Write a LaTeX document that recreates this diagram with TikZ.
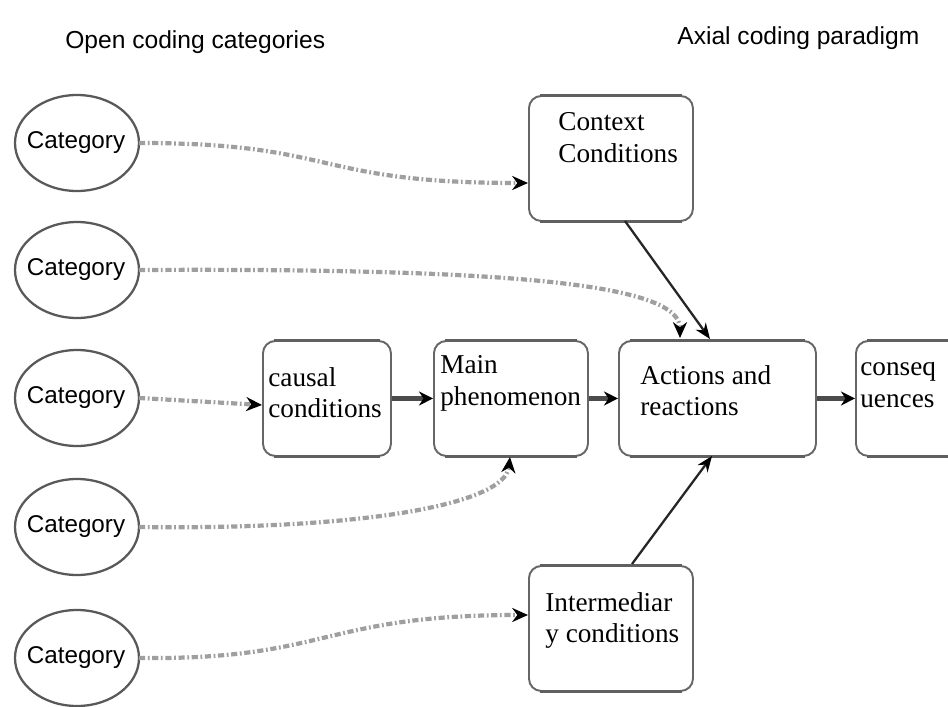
\documentclass[tikz,border=0pt]{standalone}
\usepackage{fontspec}
\setmainfont{Liberation Serif}
\newfontfamily\labelsans{Liberation Sans}
\usetikzlibrary{arrows.meta}
\begin{document}
\begin{tikzpicture}[x=0.02cm,y=-0.02cm,
  box/.style={draw=gray!80!black, line width=1.1pt, rounded corners=7pt, inner sep=0pt},
  edge/.style={draw=gray!75!black, line width=1.8pt, line cap=butt},
  boxtext/.style={anchor=north west, align=left, inner sep=0pt, font=\fontsize{15.5}{18}\selectfont},
  title/.style={anchor=west, inner sep=0pt, font=\labelsans\fontsize{14}{16}\selectfont},
  dd/.style={draw=gray!75, line width=2.4pt, dash pattern=on 3.5pt off 1.5pt on 1pt off 1.5pt, -{Stealth[black,length=9pt,width=8pt]}},
  thick/.style={draw=gray!60!black, line width=2.6pt, -{Stealth[black,length=8pt,width=8pt]}},
  solid/.style={draw=gray!30!black, line width=1.3pt, -{Stealth[black,length=9pt,width=7pt]}}
]
\useasboundingbox (0,0) rectangle (948,707);
% titles
\node[title] (t1) at (65,42) {Open coding categories};
\node[title] (t2) at (677,38) {Axial coding paradigm};
% categories
\foreach \i/\y in {1/143,2/270,3/398,4/527,5/658}{
  \draw[gray!70!black, line width=1.3pt] (77,\y) ellipse [x radius=62, y radius=48];
  \node[inner sep=0pt, font=\labelsans\fontsize{13.8}{15}\selectfont] (c\i) at (76,\y) {Category};
  \coordinate (ce\i) at (139,\y);
}
% boxes
\node[box, minimum width=164*0.02cm, minimum height=125*0.02cm, anchor=north west] (ctx) at (528,95) {};
\node[boxtext] (ctxt) at (558,112) {Context\\Conditions};
\node[box, minimum width=128*0.02cm, minimum height=115*0.02cm, anchor=north west] (cau) at (262,340) {};
\node[boxtext] (caut) at (268,367) {causal\\conditions};
\node[box, minimum width=154*0.02cm, minimum height=115*0.02cm, anchor=north west] (mai) at (433,340) {};
\node[boxtext] (mait) at (440,355) {Main\\phenomenon};
\node[box, minimum width=197*0.02cm, minimum height=115*0.02cm, anchor=north west] (act) at (618,340) {};
\node[boxtext] (actt) at (640,365) {Actions and\\reactions};
\node[box, minimum width=110*0.02cm, minimum height=115*0.02cm, anchor=north west] (con) at (855,340) {};
\node[boxtext] (cont) at (860,362) {conseq\\uences};
\node[box, minimum width=164*0.02cm, minimum height=125*0.02cm, anchor=north west] (int) at (528,565) {};
\node[boxtext] (intt) at (545,592) {Intermediar\\y conditions};
% heavier top and bottom edges
\foreach \b in {ctx,cau,mai,act,con,int}{
  \path[edge] ([xshift=7pt,yshift=-0.35pt]\b.north west) -- ([xshift=-7pt,yshift=-0.35pt]\b.north east);
  \path[edge] ([xshift=7pt,yshift=0.35pt]\b.south west) -- ([xshift=-7pt,yshift=0.35pt]\b.south east);
}
% anchor coordinates
\coordinate (ctxin) at (528,183);
\coordinate (acttop1) at (680,338);
\coordinate (caujn) at (262,405);
\coordinate (maibot) at (510,457);
\coordinate (intin) at (528,615);
\coordinate (ctxbot) at (625,221);
\coordinate (acttop2) at (710,339);
\coordinate (intop) at (632,564);
\coordinate (actbot) at (712,456);
% dash-dot connectors
\path[dd] (ce1) .. controls (340,143) and (310,183) .. (ctxin);
\path[dd] (ce2) .. controls (520,268) and (680,285) .. (acttop1);
\path[dd] (ce3) -- (caujn);
\path[dd] (ce4) .. controls (360,530) and (505,505) .. (maibot);
\path[dd] (ce5) .. controls (330,660) and (320,615) .. (intin);
% solid connectors
\path[solid] (ctxbot) -- (acttop2);
\path[solid] (intop) -- (actbot);
\path[thick] (cau.east) -- (mai.west);
\path[thick] (mai.east) -- (act.west);
\path[thick] (act.east) -- (con.west);
\end{tikzpicture}
\end{document}
